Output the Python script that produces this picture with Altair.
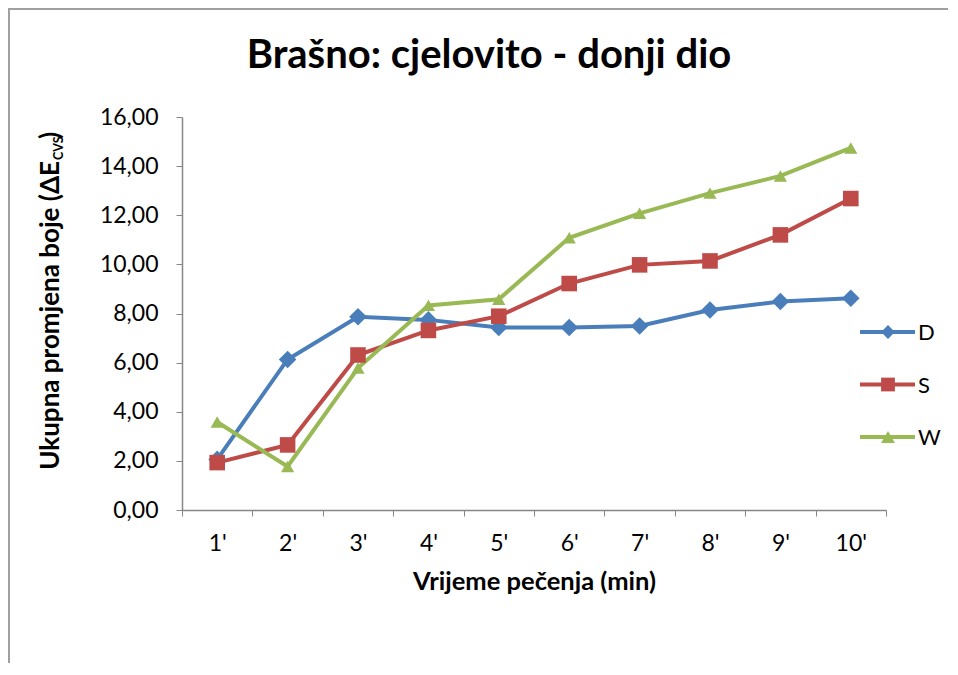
import altair as alt
import pandas as pd

minutes = ["1'", "2'", "3'", "4'", "5'", "6'", "7'", "8'", "9'", "10'"]
series_names = ["D", "S", "W"]
D = [2.06, 6.13, 7.87, 7.74, 7.43, 7.43, 7.49, 8.14, 8.49, 8.62]
S = [1.93, 2.65, 6.31, 7.31, 7.89, 9.22, 9.98, 10.14, 11.20, 12.68]
W = [3.58, 1.77, 5.78, 8.33, 8.58, 11.08, 12.08, 12.90, 13.60, 14.74]
y_ticks = [0, 2, 4, 6, 8, 10, 12, 14, 16]

title_text = "Brašno: cjelovito - donji dio"
x_title = "Vrijeme pečenja (min)"
y_title_main = "Ukupna promjena boje (ΔE"
y_title_sub = "CVS"
y_title_end = ")"

colors = ["#4A7EBB", "#BE4B48", "#98B954"]
shapes = ["diamond", "square", "triangle-up"]
sizes = [310, 175, 260]

rows = []
for name, vals in zip(series_names, [D, S, W]):
    for m, v in zip(minutes, vals):
        rows.append({"min": m, "series": name, "value": v})
df = pd.DataFrame(rows)
legend_df = pd.DataFrame({"series": series_names})

FONT = "Lato"
PW, PH = 704, 393

color_scale = alt.Scale(domain=series_names, range=colors)
shape_scale = alt.Scale(domain=series_names, range=shapes)
size_scale = alt.Scale(domain=series_names, range=sizes)

x_enc = alt.X(
    "min:N",
    sort=minutes,
    bandPosition=0.5,
    scale=alt.Scale(type="band", paddingInner=0, paddingOuter=0),
    axis=alt.Axis(
        title=x_title,
        titleFont=FONT,
        titleFontSize=25.5,
        titleFontWeight="bold",
        titleColor="#000000",
        titlePadding=14,
        labelFont=FONT,
        labelFontSize=23,
        labelColor="#000000",
        labelAngle=0,
        labelPadding=16,
        tickBand="extent",
        tickSize=6,
        tickColor="#868686",
        domainColor="#868686",
        domainWidth=1.5,
        grid=False,
    ),
)
y_enc = alt.Y(
    "value:Q",
    scale=alt.Scale(domain=[0, 16], nice=False),
    axis=alt.Axis(
        title=None,
        values=y_ticks,
        labelExpr="replace(format(datum.value, '.2f'), '.', ',')",
        labelFont=FONT,
        labelFontSize=23,
        labelColor="#000000",
        labelPadding=18,
        tickSize=6,
        tickColor="#868686",
        domainColor="#868686",
        domainWidth=1.5,
        grid=False,
    ),
)

lines = alt.Chart(df).mark_line(strokeWidth=4).encode(
    x=x_enc,
    y=y_enc,
    color=alt.Color("series:N", scale=color_scale, legend=None),
)
points = alt.Chart(df).mark_point(filled=True, opacity=1).encode(
    x=x_enc,
    y=y_enc,
    color=alt.Color("series:N", scale=color_scale, legend=None),
    shape=alt.Shape("series:N", scale=shape_scale, legend=None),
    size=alt.Size("series:N", scale=size_scale, legend=None),
)
data_layer = alt.layer(lines, points)

# custom legend (line + marker + label), placed at the right
leg_y = alt.Y(
    "series:N",
    scale=alt.Scale(type="point", domain=series_names, range=[215, 320], padding=0),
    axis=None,
)
leg_rule = alt.Chart(legend_df).mark_rule(strokeWidth=4).encode(
    x=alt.value(678), x2=alt.value(733), y=leg_y,
    color=alt.Color("series:N", scale=color_scale, legend=None),
)
leg_pt = alt.Chart(legend_df).mark_point(filled=True, opacity=1).encode(
    x=alt.value(706), y=leg_y,
    color=alt.Color("series:N", scale=color_scale, legend=None),
    shape=alt.Shape("series:N", scale=shape_scale, legend=None),
    size=alt.value(190),
)
leg_txt = alt.Chart(legend_df).mark_text(
    font=FONT, fontSize=22, color="#000000", align="left", baseline="middle", dy=1
).encode(x=alt.value(736), y=leg_y, text="series:N")
legend_layer = alt.layer(leg_rule, leg_pt, leg_txt)

txt = pd.DataFrame({"t": [0]})
title = alt.Chart(txt).mark_text(
    text=title_text, font=FONT, fontSize=40, fontWeight="bold", color="#000000",
    align="center", baseline="alphabetic",
).encode(x=alt.value(307), y=alt.value(-49))

ytitle1 = alt.Chart(txt).mark_text(
    text=y_title_main, font=FONT, fontSize=26, fontWeight="bold", color="#000000",
    angle=270, align="right", baseline="alphabetic",
).encode(x=alt.value(-123), y=alt.value(44))
ytitle2 = alt.Chart(txt).mark_text(
    text=y_title_sub, font=FONT, fontSize=12.5, fontWeight="bold", color="#000000",
    angle=270, align="left", baseline="alphabetic",
).encode(x=alt.value(-119), y=alt.value(43))
ytitle3 = alt.Chart(txt).mark_text(
    text=y_title_end, font=FONT, fontSize=26, fontWeight="bold", color="#000000",
    angle=270, align="left", baseline="alphabetic",
).encode(x=alt.value(-123), y=alt.value(22))

border = alt.Chart(txt).mark_rect(filled=False, stroke="#A0A0A0", strokeWidth=2).encode(
    x=alt.value(-173), x2=alt.value(1200), y=alt.value(-108), y2=alt.value(1200)
)

chart = alt.layer(
    border, data_layer, legend_layer, title, ytitle1, ytitle2, ytitle3
).resolve_scale(y="independent").properties(
    width=PW,
    height=PH,
    autosize=alt.AutoSizeParams(type="none"),
    padding={"left": 174, "top": 109, "right": 62, "bottom": 153},
    background="#FFFFFF",
).configure_view(stroke=None)

chart.save("out.html", embed_options={"renderer": "svg", "actions": False})
